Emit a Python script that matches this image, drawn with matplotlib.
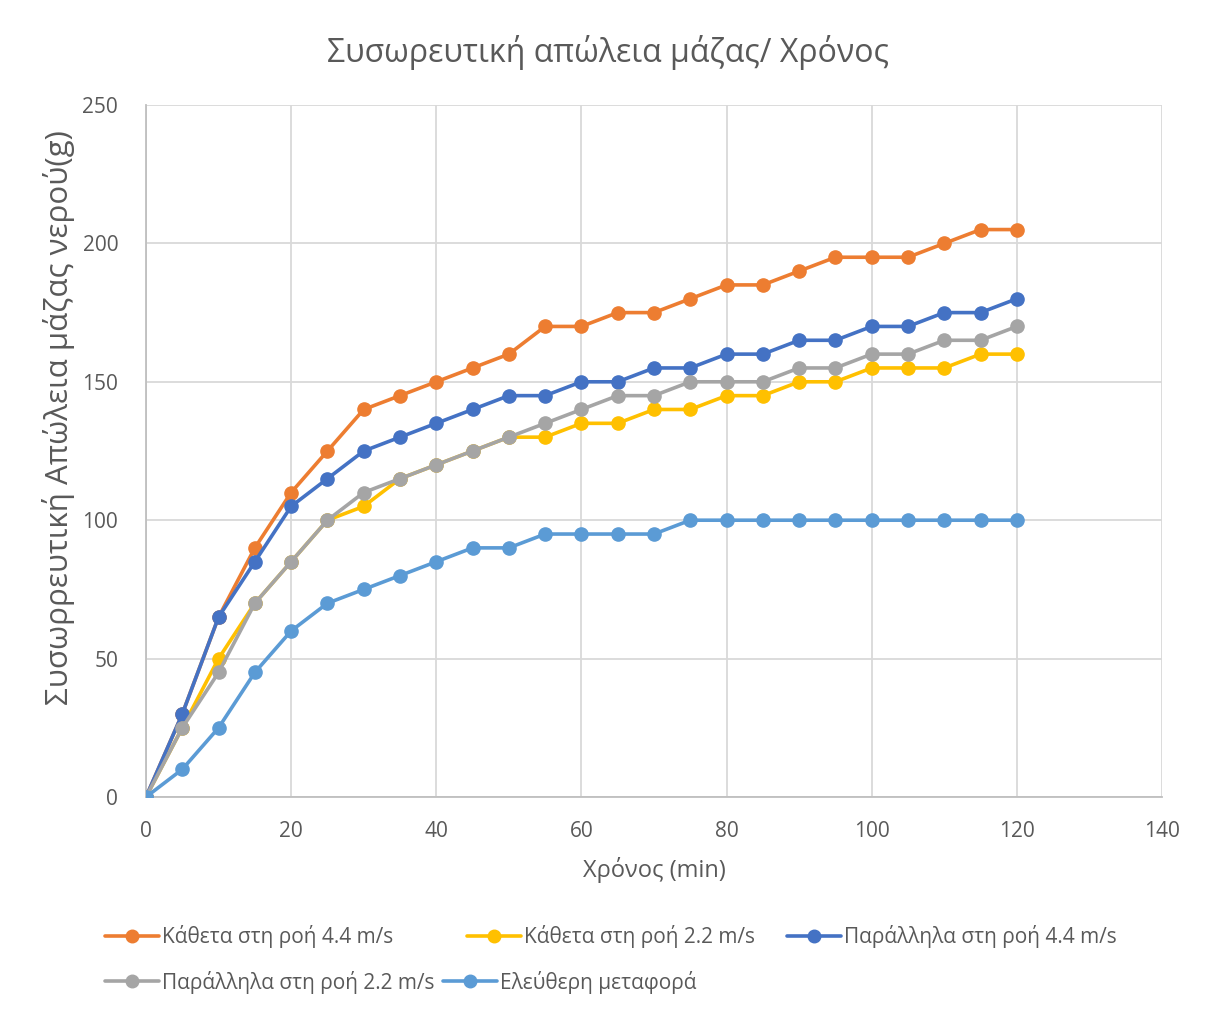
import matplotlib
matplotlib.use("Agg")
import matplotlib.pyplot as plt

plt.rcParams['font.family'] = ['Open Sans', 'DejaVu Sans']

# Time in minutes
time_min = [0, 5, 10, 15, 20, 25, 30, 35, 40, 45, 50, 55, 60,
            65, 70, 75, 80, 85, 90, 95, 100, 105, 110, 115, 120]

# Cumulative water mass loss (g)
perp_44 = [0, 30, 65, 90, 110, 125, 140, 145, 150, 155, 160, 170, 170,
           175, 175, 180, 185, 185, 190, 195, 195, 195, 200, 205, 205]
perp_22 = [0, 25, 50, 70, 85, 100, 105, 115, 120, 125, 130, 130, 135,
           135, 140, 140, 145, 145, 150, 150, 155, 155, 155, 160, 160]
par_44 = [0, 30, 65, 85, 105, 115, 125, 130, 135, 140, 145, 145, 150,
          150, 155, 155, 160, 160, 165, 165, 170, 170, 175, 175, 180]
par_22 = [0, 25, 45, 70, 85, 100, 110, 115, 120, 125, 130, 135, 140,
          145, 145, 150, 150, 150, 155, 155, 160, 160, 165, 165, 170]
free_conv = [0, 10, 25, 45, 60, 70, 75, 80, 85, 90, 90, 95, 95,
             95, 95, 100, 100, 100, 100, 100, 100, 100, 100, 100, 100]

series = [
    ("Κάθετα στη ροή 4.4 m/s", perp_44, "#ED7D31"),
    ("Κάθετα στη ροή 2.2 m/s", perp_22, "#FFC000"),
    ("Παράλληλα στη ροή 4.4 m/s", par_44, "#4472C4"),
    ("Παράλληλα στη ροή 2.2 m/s", par_22, "#A5A5A5"),
    ("Ελεύθερη μεταφορά", free_conv, "#5B9BD5"),
]

x_ticks = [0, 20, 40, 60, 80, 100, 120, 140]
y_ticks = [0, 50, 100, 150, 200, 250]

text_col = "#595959"
W, H = 1209, 1014

fig = plt.figure(figsize=(W / 100, H / 100), dpi=100)
ax = fig.add_axes([146 / W, 1 - 797 / H, (1162 - 146) / W, (797 - 105) / H])

handles = []
for label, vals, col in series:
    ln, = ax.plot(time_min, vals, color=col, lw=2.6, marker='o', ms=9.5,
                  label=label, solid_capstyle='round', zorder=3)
    handles.append(ln)

ax.set_xlim(0, 140)
ax.set_ylim(0, 250)
ax.set_xticks(x_ticks)
ax.set_yticks(y_ticks)
ax.grid(True, color="#D9D9D9", lw=1.3, zorder=0)
ax.set_axisbelow(True)
for s in ['top', 'right']:
    ax.spines[s].set_visible(False)
for s in ['left', 'bottom']:
    ax.spines[s].set_color("#BFBFBF")
    ax.spines[s].set_linewidth(1.3)
ax.tick_params(length=0, labelsize=15, labelcolor=text_col)
ax.tick_params(axis='x', pad=17)
ax.tick_params(axis='y', pad=20)

ax.set_xlabel("Χρόνος (min)", fontsize=17, color=text_col, labelpad=11)
ax.set_ylabel("Συσωρρευτική Απώλεια μάζας νερού(g)", fontsize=22.5,
              color=text_col)
ax.yaxis.set_label_coords(-0.070, 0.548)

fig.text(0.503, 1 - 52 / H, "Συσωρευτική απώλεια μάζας/ Χρόνος",
         ha='center', va='center', fontsize=23, color=text_col)

# Legend entries laid out in two rows beneath the plot
legend_pos = [(105, 937), (467, 937), (787, 937), (105, 982), (443, 982)]
for h, (px, py) in zip(handles, legend_pos):
    fig.legend([h], [h.get_label()], loc='center left',
               bbox_to_anchor=(px / W, 1 - py / H), frameon=False,
               fontsize=15, labelcolor=text_col, handlelength=2.6,
               handletextpad=0.12, borderaxespad=0, borderpad=0,
               markerscale=0.95)

fig.savefig("out.png", dpi=100, facecolor="white")
